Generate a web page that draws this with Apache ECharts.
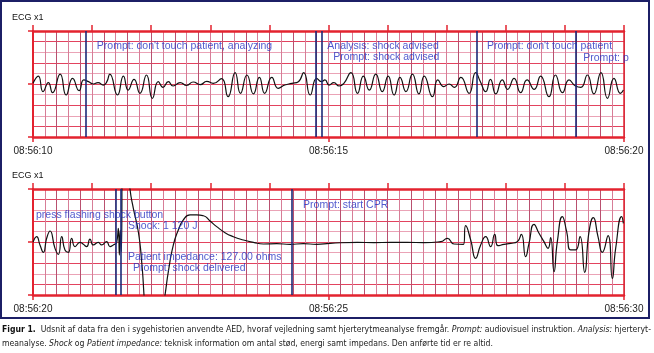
<!DOCTYPE html>
<html><head><meta charset="utf-8">
<script src="https://cdn.jsdelivr.net/npm/echarts@6/dist/echarts.min.js"></script>
<style>html,body{margin:0;padding:0;background:#fff}#c{width:654px;height:353px}</style>
</head><body><div id="c"></div>
<script>
// ---- data (time in seconds from panel start, amplitude in grid divisions) ----
var topTicks = ["08:56:10", "08:56:15", "08:56:20"];
var bottomTicks = ["08:56:20", "08:56:25", "08:56:30"];

var topTime = [0.00,0.09,0.17,0.26,0.33,0.46,0.56,0.67,0.78,0.86,0.94,1.02,1.10,1.19,1.25,1.30,1.43,1.53,1.61,1.71,1.81,1.92,2.02,2.12,2.20,2.29,2.37,2.49,2.60,2.71,2.83,2.94,3.05,3.19,3.30,3.42,3.51,3.62,3.73,3.83,3.92,4.04,4.15,4.26,4.38,4.49,4.58,4.69,4.80,4.88,4.94,
  5.01,5.09,5.18,5.26,5.38,5.49,5.59,5.69,5.80,5.91,6.01,6.11,6.21,6.31,6.42,6.53,6.62,6.76,6.85,6.95,7.04,7.13,7.24,7.38,7.49,7.57,7.66,7.74,7.83,7.94,8.03,8.14,8.25,8.36,8.48,8.59,8.73,8.84,8.96,9.07,9.18,9.27,9.38,9.49,9.61,9.72,9.83,9.94,9.99];
var topValue = [0.06,0.75,-0.72,0.13,-0.82,0.94,-1.04,0.53,-0.63,0.38,0.22,0,0.13,-0.1,0.22,0.94,-1.04,0.75,-0.57,0.44,-0.88,0.85,-1.35,0.22,-0.31,0.22,-0.19,0.13,-0.13,0.19,-0.06,0.25,0.06,0.5,-1.2,1.07,-0.88,0.85,-0.94,0.63,-0.88,0.63,-0.41,-0.1,0.06,0.22,1.07,-1.04,0.53,0.22,0.38,
  -0.1,0.13,-0.19,0.06,1.07,-0.88,0.75,-0.57,0.94,-0.72,0.75,-1.04,0.63,-0.72,0.94,-0.94,0.75,-1.2,0.38,-0.25,0,-0.31,0.63,-0.88,1.07,0.22,-0.72,0.44,-0.94,0.38,-0.5,0.53,-0.82,0.38,-0.5,0.75,-1.2,0.85,-0.82,0.38,-0.19,-0.31,0.85,-0.94,1.07,-1.35,0.53,-0.88,-0.57];

var bottomTime = [0.00,0.062,0.118,0.175,0.231,0.288,0.372,0.429,0.485,0.541,0.598,0.654,0.711,0.795,0.852,0.908,0.964,1.021,1.105,1.162,1.246,1.303,1.359,1.416,1.444,1.461,1.478,1.495,1.517,1.596,1.641,1.698,1.782,1.839,1.878,1.901,2.149,2.234,2.290,2.375,2.459,2.544,2.657,2.770,2.883,2.995,3.108,3.249,3.390,3.560,3.729,3.898,4.124,4.349,4.575,4.801,5.027,
  5.488,5.770,6.052,6.334,6.616,6.898,7.011,7.124,7.282,7.321,7.406,7.490,7.575,7.660,7.744,7.812,7.868,7.970,8.083,8.195,8.263,8.336,8.393,8.477,8.562,8.646,8.714,8.759,8.816,8.872,8.957,9.030,9.098,9.182,9.256,9.335,9.408,9.481,9.560,9.634,9.730,9.803,9.859,9.961,9.989];
var bottomValue = [-0.03,0.5,-0.28,-0.97,0.35,1.04,-0.6,-1.16,0.5,-0.75,-0.97,0.35,-0.44,-0.03,-0.22,-0.44,0.28,-0.28,-0.03,-0.28,0.03,-0.44,-0.28,-0.03,1.29,-1.23,1.13,-0.91,10,8,5.0,3.18,0.97,-1.86,-5.0,-7.2,-8,-5.0,-2.8,-0.28,1.13,2.08,2.55,2.55,2.48,1.98,1.45,0.88,0.5,0.19,-0.03,-0.19,-0.16,-0.22,-0.16,-0.22,-0.13,
  -0.03,-0.06,-0.03,-0.03,-0.06,0.03,0.35,-0.19,-0.22,1.54,0.19,-1.54,-0.28,0.5,-0.44,0.72,-0.35,-0.22,-0.13,0.03,0.72,-1.38,-0.13,1.67,0.82,0.03,-0.6,0.41,-2.8,0.03,2.39,0.97,-0.75,-0.75,0.5,-2.86,0.97,2.3,0.5,-0.97,0.6,-3.43,-0.6,2.39,1.76];

var topEvents = [0.897, 4.777, 4.879, 7.496, 9.19];
var bottomEvents = [1.40, 1.49, 4.38];

var topNotes = ["Prompt: don't touch patient, analyzing", "Analysis: shock advised", "Prompt: shock advised", "Prompt: don't touch patient", "Prompt: press flashing shock button"];
var topNoteTime = [1.08, 4.98, 5.08, 7.68, 9.31];
var topNoteLevel = [3.58, 3.58, 2.55, 3.58, 2.45];

var bottomNotes = ["press flashing shock button", "Shock: 1 120 J", "Patient impedance: 127.00 ohms", "Prompt: shock delivered", "Prompt: start CPR"];
var bottomNoteTime = [0.05, 1.607, 1.607, 1.69, 4.57];
var bottomNoteLevel = [2.55, 1.51, -1.42, -2.45, 3.49];

// ---- chart ----
var RED = '#e3232f';
var panels = [
  {top: 31, ticks: topTicks, t: topTime, v: topValue, ev: topEvents, notes: topNotes, nt: topNoteTime, nl: topNoteLevel},
  {top: 189, ticks: bottomTicks, t: bottomTime, v: bottomValue, ev: bottomEvents, notes: bottomNotes, nt: bottomNoteTime, nl: bottomNoteLevel}
];
var grid = [], xAxis = [], yAxis = [], series = [], graphic = [];
var FONT = 'Liberation Sans, Arial, sans-serif';
panels.forEach(function (p, g) {
  grid.push({left: 33, width: 591, top: p.top, height: 106});
  var xb = xAxis.length;
  xAxis.push({gridIndex: g, type: 'value', min: 0, max: 10, interval: 0.2, position: 'bottom',
    axisLine: {show: true, onZero: false, lineStyle: {color: RED, width: 2.5}}, axisTick: {show: false}, axisLabel: {show: false},
    splitLine: {show: true, lineStyle: {color: ['#b9506f', '#d77d97'], width: 1}}});
  xAxis.push({gridIndex: g, type: 'value', min: 0, max: 10, interval: 5, position: 'bottom',
    axisLine: {show: false, onZero: false}, axisTick: {show: true, length: 5, lineStyle: {color: RED, width: 1.5}},
    axisLabel: {show: true, margin: 9, color: '#222', fontSize: 10, fontFamily: FONT, showMinLabel: true, showMaxLabel: true,
      formatter: (function (ticks) { return function (v) { return ticks[Math.round(v / 5)]; }; })(p.ticks)},
    splitLine: {show: false}});
  xAxis.push({gridIndex: g, type: 'value', min: 0, max: 10, interval: 1, position: 'top',
    axisLine: {show: true, onZero: false, lineStyle: {color: RED, width: 2.5}}, axisTick: {show: true, length: 6, lineStyle: {color: RED, width: 1.5}},
    axisLabel: {show: false}, splitLine: {show: false}});
  var yb = yAxis.length;
  yAxis.push({gridIndex: g, type: 'value', min: -5, max: 5, interval: 1, position: 'left',
    axisLine: {show: true, onZero: false, lineStyle: {color: RED, width: 2}}, axisTick: {show: false}, axisLabel: {show: false},
    splitLine: {show: true, lineStyle: {color: ['#eaa3b6', '#e2435e'], width: 1}}});
  yAxis.push({gridIndex: g, type: 'value', min: -5, max: 5, interval: 5, position: 'left',
    axisLine: {show: false, onZero: false}, axisTick: {show: true, length: 5, lineStyle: {color: RED, width: 1.5}}, axisLabel: {show: false}, splitLine: {show: false}});
  yAxis.push({gridIndex: g, type: 'value', min: -5, max: 5, interval: 5, position: 'right',
    axisLine: {show: true, onZero: false, lineStyle: {color: RED, width: 1.5}}, axisTick: {show: false}, axisLabel: {show: false}, splitLine: {show: false}});

  var data = p.t.map(function (t, i) { return [t, p.v[i]]; });
  series.push({type: 'line', xAxisIndex: xb, yAxisIndex: yb, data: data, showSymbol: false, smooth: 0.55, clip: true,
    lineStyle: {color: '#111', width: 1.2}, animation: false, z: 3,
    markLine: {silent: true, symbol: 'none', animation: false, label: {show: false},
      lineStyle: {color: '#1b2a78', width: 1.6, type: 'solid'},
      data: p.ev.map(function (e) { return {xAxis: e}; })}});
  series.push({type: 'scatter', xAxisIndex: xb, yAxisIndex: yb, symbolSize: 0, animation: false, z: 5,
    data: p.notes.map(function (n, i) {
      var d = {name: n, value: [p.nt[i], p.nl[i]]};
      if (g === 0 && i === p.notes.length - 1) d.label = {width: 48, overflow: 'truncate', ellipsis: ''};
      return d;
    }),
    label: {show: true, position: 'right', distance: 0, color: '#2430c0', fontSize: 10.5, fontFamily: FONT,
      formatter: function (d) { return d.name; }}});
  graphic.push({type: 'text', left: 12, top: p.top - 18, style: {text: 'ECG x1', fill: '#111', font: '9px ' + FONT}});
});

graphic.push({type: 'rect', shape: {x: 1, y: 1, width: 648, height: 317}, style: {fill: 'none', stroke: '#1c1f66', lineWidth: 2}, z: 10});

var CF = 'Liberation Sans Narrow, DejaVu Sans Condensed, sans-serif';
var caption = '{b|Figur 1.}  Udsnit af data fra den i sygehistorien anvendte AED, hvoraf vejledning samt hjerterytmeanalyse fremgår. {i|Prompt:} audiovisuel instruktion. {i|Analysis:} hjerteryt-\n' +
  'meanalyse. {i|Shock} og {i|Patient impedance:} teknisk information om antal stød, energi samt impedans. Den anførte tid er re altid.';

var chart = echarts.init(document.getElementById('c'), null, {renderer: 'canvas'});
chart.setOption({
  animation: false,
  backgroundColor: '#fff',
  title: {text: caption, left: 0, top: 323, padding: [0, 0, 0, 2],
    textStyle: {fontSize: 8.6, fontFamily: CF, color: '#222', fontWeight: 'normal', lineHeight: 14,
      rich: {b: {fontSize: 8.6, fontFamily: CF, fontWeight: 'bold', color: '#111', lineHeight: 14},
             i: {fontSize: 8.6, fontFamily: CF, fontStyle: 'italic', color: '#222', lineHeight: 14}}}},
  grid: grid, xAxis: xAxis, yAxis: yAxis, series: series, graphic: graphic
});
</script></body></html>
